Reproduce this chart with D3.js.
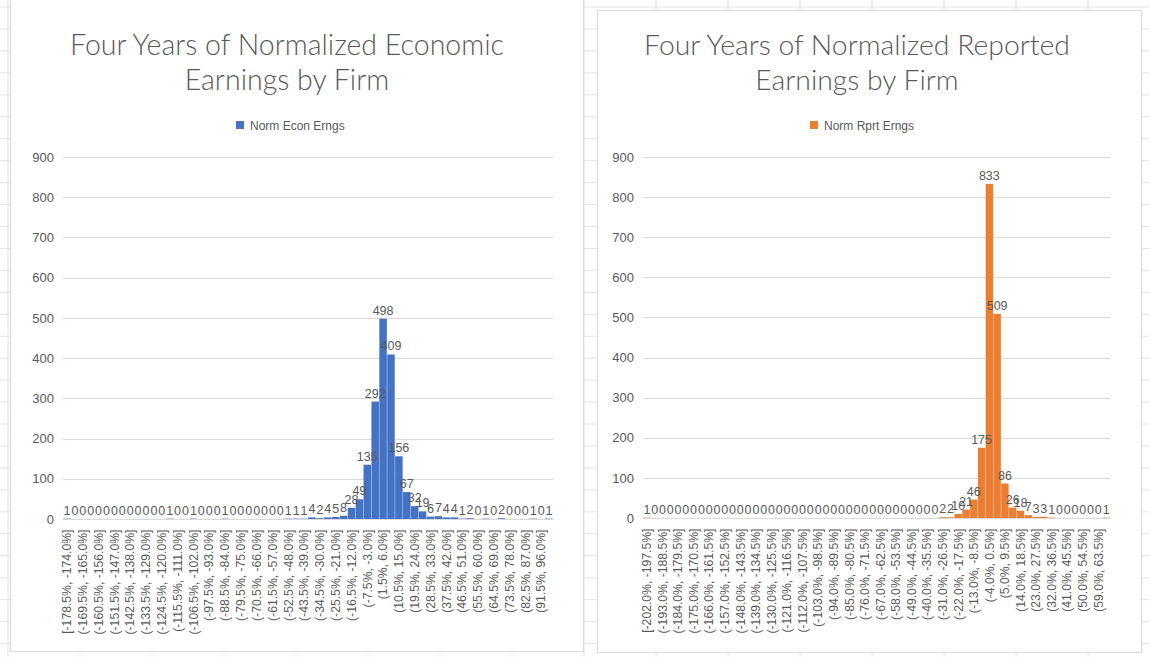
<!DOCTYPE html>
<html>
<head>
<meta charset="utf-8">
<script src="https://cdn.jsdelivr.net/npm/d3@7"></script>
<style>
  html, body { margin: 0; padding: 0; background: #ffffff; }
  svg { display: block; }
  text { font-family: "Liberation Sans", Arial, sans-serif; }
</style>
</head>
<body>
<svg id="chart" width="1149" height="657"></svg>
<script>
// ---------------- DATA ----------------
const econBins = [
  "[-178.5%, -174.0%]","(-174.0%, -169.5%]","(-169.5%, -165.0%]","(-165.0%, -160.5%]","(-160.5%, -156.0%]",
  "(-156.0%, -151.5%]","(-151.5%, -147.0%]","(-147.0%, -142.5%]","(-142.5%, -138.0%]","(-138.0%, -133.5%]",
  "(-133.5%, -129.0%]","(-129.0%, -124.5%]","(-124.5%, -120.0%]","(-120.0%, -115.5%]","(-115.5%, -111.0%]",
  "(-111.0%, -106.5%]","(-106.5%, -102.0%]","(-102.0%, -97.5%]","(-97.5%, -93.0%]","(-93.0%, -88.5%]",
  "(-88.5%, -84.0%]","(-84.0%, -79.5%]","(-79.5%, -75.0%]","(-75.0%, -70.5%]","(-70.5%, -66.0%]",
  "(-66.0%, -61.5%]","(-61.5%, -57.0%]","(-57.0%, -52.5%]","(-52.5%, -48.0%]","(-48.0%, -43.5%]",
  "(-43.5%, -39.0%]","(-39.0%, -34.5%]","(-34.5%, -30.0%]","(-30.0%, -25.5%]","(-25.5%, -21.0%]",
  "(-21.0%, -16.5%]","(-16.5%, -12.0%]","(-12.0%, -7.5%]","(-7.5%, -3.0%]","(-3.0%, 1.5%]",
  "(1.5%, 6.0%]","(6.0%, 10.5%]","(10.5%, 15.0%]","(15.0%, 19.5%]","(19.5%, 24.0%]",
  "(24.0%, 28.5%]","(28.5%, 33.0%]","(33.0%, 37.5%]","(37.5%, 42.0%]","(42.0%, 46.5%]",
  "(46.5%, 51.0%]","(51.0%, 55.5%]","(55.5%, 60.0%]","(60.0%, 64.5%]","(64.5%, 69.0%]",
  "(69.0%, 73.5%]","(73.5%, 78.0%]","(78.0%, 82.5%]","(82.5%, 87.0%]","(87.0%, 91.5%]",
  "(91.5%, 96.0%]","(96.0%, 100.5%]"
];
const econCounts = [
  1,0,0,0,0,0,0,0,0,0,
  0,0,0,1,0,0,1,0,0,0,
  1,0,0,0,0,0,0,0,1,1,
  1,4,2,4,5,8,28,49,135,292,
  498,409,156,67,32,19,6,7,4,4,
  1,2,0,1,0,2,0,0,0,1,
  0,1
];

const rprtBins = [
  "[-202.0%, -197.5%]","(-197.5%, -193.0%]","(-193.0%, -188.5%]","(-188.5%, -184.0%]","(-184.0%, -179.5%]",
  "(-179.5%, -175.0%]","(-175.0%, -170.5%]","(-170.5%, -166.0%]","(-166.0%, -161.5%]","(-161.5%, -157.0%]",
  "(-157.0%, -152.5%]","(-152.5%, -148.0%]","(-148.0%, -143.5%]","(-143.5%, -139.0%]","(-139.0%, -134.5%]",
  "(-134.5%, -130.0%]","(-130.0%, -125.5%]","(-125.5%, -121.0%]","(-121.0%, -116.5%]","(-116.5%, -112.0%]",
  "(-112.0%, -107.5%]","(-107.5%, -103.0%]","(-103.0%, -98.5%]","(-98.5%, -94.0%]","(-94.0%, -89.5%]",
  "(-89.5%, -85.0%]","(-85.0%, -80.5%]","(-80.5%, -76.0%]","(-76.0%, -71.5%]","(-71.5%, -67.0%]",
  "(-67.0%, -62.5%]","(-62.5%, -58.0%]","(-58.0%, -53.5%]","(-53.5%, -49.0%]","(-49.0%, -44.5%]",
  "(-44.5%, -40.0%]","(-40.0%, -35.5%]","(-35.5%, -31.0%]","(-31.0%, -26.5%]","(-26.5%, -22.0%]",
  "(-22.0%, -17.5%]","(-17.5%, -13.0%]","(-13.0%, -8.5%]","(-8.5%, -4.0%]","(-4.0%, 0.5%]",
  "(0.5%, 5.0%]","(5.0%, 9.5%]","(9.5%, 14.0%]","(14.0%, 18.5%]","(18.5%, 23.0%]",
  "(23.0%, 27.5%]","(27.5%, 32.0%]","(32.0%, 36.5%]","(36.5%, 41.0%]","(41.0%, 45.5%]",
  "(45.5%, 50.0%]","(50.0%, 54.5%]","(54.5%, 59.0%]","(59.0%, 63.5%]","(63.5%, 68.0%]"
];
const rprtCounts = [
  1,0,0,0,0,0,0,0,0,0,
  0,0,0,0,0,0,0,0,0,0,
  0,0,0,0,0,0,0,0,0,0,
  0,0,0,0,0,0,0,0,2,2,
  10,21,46,175,833,509,86,26,18,7,
  3,3,1,0,0,0,0,0,0,1
];

const yTicks = [0,100,200,300,400,500,600,700,800,900];

const econTitle = ["Four Years of Normalized Economic", "Earnings by Firm"];
const rprtTitle = ["Four Years of Normalized Reported", "Earnings by Firm"];
const econSeries = "Norm Econ Erngs";
const rprtSeries = "Norm Rprt Erngs";

// ---------------- DRAW ----------------
const svg = d3.select("#chart");
const W = 1149, H = 657;
const TEXT = "#595959", GRID = "#d9d9d9";

// spreadsheet background grid
const sheet = svg.append("g");
sheet.append("rect").attr("width", W).attr("height", H).attr("fill", "#ffffff");
const rowYs = d3.range(7, H, 21.95);
const colXs = d3.range(8, W, 72);
sheet.selectAll("line.row").data(rowYs).join("line")
  .attr("x1", 0).attr("x2", W).attr("y1", d => d).attr("y2", d => d)
  .attr("stroke", "#e2e2e2").attr("stroke-width", 1);
sheet.selectAll("line.col").data(colXs).join("line")
  .attr("y1", 0).attr("y2", H).attr("x1", d => d).attr("x2", d => d)
  .attr("stroke", "#e2e2e2").attr("stroke-width", 1);

function drawChart(cfg) {
  const g = svg.append("g");
  // chart area
  g.append("rect")
    .attr("x", cfg.frame[0] + 0.5).attr("y", cfg.frame[1] + 0.5)
    .attr("width", cfg.frame[2]).attr("height", cfg.frame[3])
    .attr("fill", "#ffffff").attr("stroke", GRID);

  const x = d3.scaleBand().domain(cfg.bins).range([cfg.left, cfg.right]).paddingInner(0.05).paddingOuter(0.025);
  const y = d3.scaleLinear().domain([0, 900]).range([cfg.y0, cfg.y900]);

  // gridlines
  g.append("g").selectAll("line").data(yTicks).join("line")
    .attr("x1", cfg.left).attr("x2", cfg.right)
    .attr("y1", d => Math.round(y(d)) + 0.5).attr("y2", d => Math.round(y(d)) + 0.5)
    .attr("stroke", GRID).attr("stroke-width", 1);

  // y axis labels
  const ya = g.append("g").attr("transform", `translate(${cfg.left - 9},0)`)
    .call(d3.axisLeft(y).tickValues(yTicks).tickSize(0).tickPadding(0).tickFormat(d3.format("d")));
  ya.select(".domain").remove();
  ya.selectAll("text").attr("fill", TEXT).style("font-size", "13px")
    .style("font-family", "'Liberation Sans', Arial, sans-serif");

  // bars
  const data = cfg.bins.map((b, i) => ({ bin: b, v: cfg.counts[i] }));
  g.append("g").selectAll("rect").data(data).join("rect")
    .attr("x", d => x(d.bin)).attr("width", x.bandwidth())
    .attr("y", d => y(d.v)).attr("height", d => y(0) - y(d.v))
    .attr("fill", cfg.color);

  // x axis
  const xa = g.append("g").attr("transform", `translate(0,${Math.round(y(0)) + 0.5})`)
    .call(d3.axisBottom(x).tickValues(cfg.bins.filter((b, i) => i % 2 === 0)).tickSize(0).tickPadding(0));
  xa.select(".domain").attr("stroke", GRID).attr("d", `M${cfg.left},0H${cfg.right}`);
  xa.selectAll("text")
    .attr("fill", TEXT).style("font-size", "12.2px")
    .style("font-family", "'Liberation Sans', Arial, sans-serif")
    .attr("text-anchor", "end").attr("dy", "0.35em")
    .attr("transform", "translate(0,10) rotate(-90)")
    .attr("x", 0).attr("y", 0);

  // data labels
  g.append("g").selectAll("text").data(data).join("text")
    .attr("x", d => x(d.bin) + x.bandwidth() / 2)
    .attr("y", d => y(d.v) - 4)
    .attr("text-anchor", "middle")
    .attr("fill", TEXT).style("font-size", "12.5px")
    .text(d => d.v);

  // title
  const t = g.append("text").attr("text-anchor", "middle").attr("fill", TEXT)
    .style("font-family", "Lato, 'Liberation Sans', sans-serif")
    .style("font-weight", "300")
    .style("font-size", "27px");
  const l1 = t.append("tspan").attr("x", cfg.titleX).attr("y", 55).text(cfg.title[0]);
  t.append("tspan").attr("x", cfg.titleX).attr("y", 90).text(cfg.title[1]);
  const w1 = l1.node().getComputedTextLength();
  if (w1 > 0) t.style("font-size", (27 * cfg.titleW / w1).toFixed(2) + "px");

  // legend
  const lg = g.append("g");
  lg.append("rect").attr("x", cfg.legendX).attr("y", 121).attr("width", 8).attr("height", 8).attr("fill", cfg.color);
  lg.append("text").attr("x", cfg.legendX + 14).attr("y", 129.5).attr("fill", TEXT)
    .style("font-size", "12px").text(cfg.series);
}

drawChart({
  frame: [10, -1, 573, 652],
  bins: econBins, counts: econCounts, color: "#4472C4",
  left: 63, right: 553, y0: 519, y900: 157,
  title: econTitle, titleX: 287, titleW: 434, legendX: 236, series: econSeries
});

drawChart({
  frame: [597, 10, 544, 642],
  bins: rprtBins, counts: rprtCounts, color: "#ED7D31",
  left: 643, right: 1110, y0: 518, y900: 157,
  title: rprtTitle, titleX: 857, titleW: 426, legendX: 810, series: rprtSeries
});
</script>
</body>
</html>
